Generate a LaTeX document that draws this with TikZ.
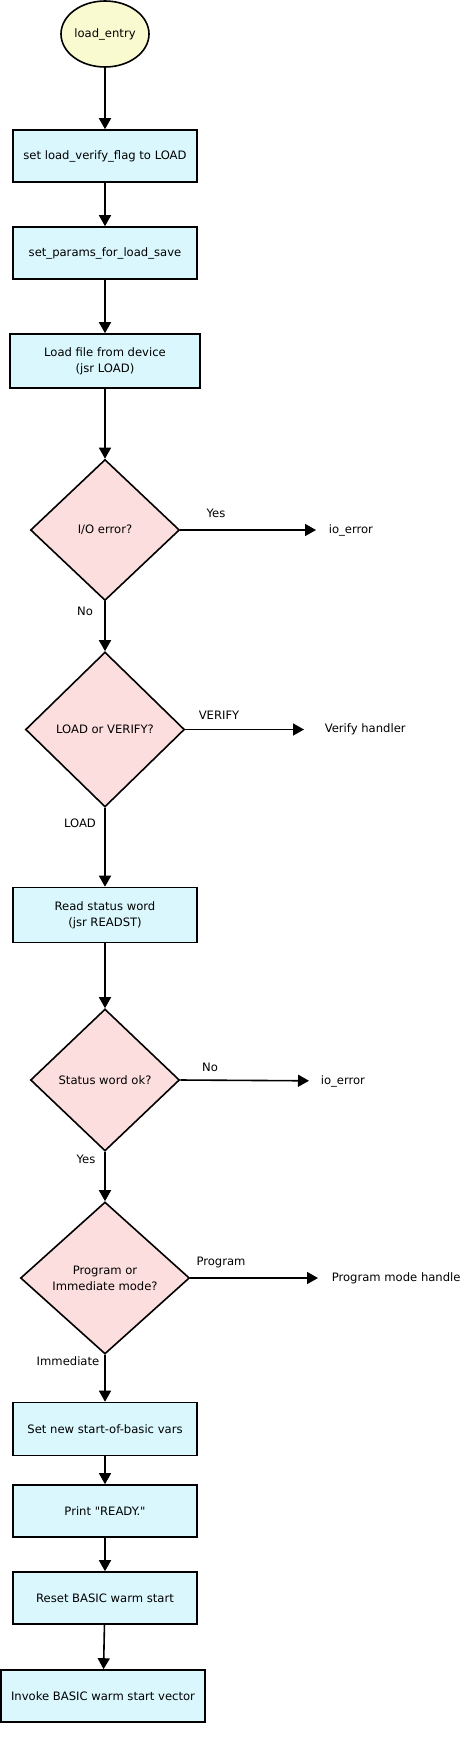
\documentclass[tikz,border=0pt]{standalone}
\usepackage{fontspec}
\setmainfont{DejaVu Sans}
\usetikzlibrary{shapes.geometric,arrows.meta}
\definecolor{startfill}{RGB}{250,250,208}
\definecolor{stepfill}{RGB}{217,247,253}
\definecolor{askfill}{RGB}{253,222,222}

\begin{document}
\begin{tikzpicture}[x=1pt, y=-1pt, line width=1.6pt,
            every node/.style={font=\fontsize{11.6}{16}\selectfont},
            startnode/.style={draw, ellipse, fill=startfill, minimum width=88pt, minimum height=66pt, inner sep=0pt},
            stepbox/.style={draw, rectangle, fill=stepfill, align=center, minimum width=184pt, minimum height=52pt, inner sep=0pt},
            askbox/.style={draw, diamond, fill=askfill, align=center, inner sep=0pt},
            flow/.style={-{Triangle[length=11pt, width=12pt]}},
            tag/.style={inner sep=0pt},
            exit/.style={anchor=west, align=left, inner xsep=12pt}]

            \useasboundingbox (0,0) rectangle (460,1739);

            % Draw the start and the first steps
            \node[startnode] (entry) at (105,34) {load\_entry};
            \node[stepbox] (setflag) at (105,156) {set load\_verify\_flag to LOAD};
            \node[stepbox] (params) at (105,253) {set\_params\_for\_load\_save};
            \node[stepbox, minimum width=190pt, minimum height=54pt] (loadfile) at (105,361) {Load file from device\\(jsr LOAD)};

            % Draw the first two questions
            \node[askbox, minimum width=149pt, minimum height=141pt] (ioerr) at (105,530) {I/O error?};
            \node[exit] (ioexit) at (316,530) {io\_error};
            \node[askbox, minimum width=159pt, minimum height=155pt] (mode) at (105,729.5) {LOAD or VERIFY?};
            \node[exit, inner xsep=20pt] (verify) at (304,729.5) {Verify handler};

            % Draw the status check
            \node[stepbox, minimum height=55pt] (readst) at (105,915) {Read status word\\(jsr READST)};
            \node[askbox, minimum width=149pt, minimum height=142pt] (stok) at (105,1080) {Status word ok?};
            \node[exit, inner xsep=11pt] (ioexit2) at (309,1081) {io\_error};
            \node[askbox, minimum width=169pt, minimum height=152pt] (prog) at (105,1278) {Program or\\Immediate mode?};
            \node[exit, inner xsep=13pt] (progexit) at (318,1278) {Program mode handler};

            % Draw the last steps
            \node[stepbox, minimum height=53pt] (newvars) at (105,1429) {Set new start-of-basic vars};
            \node[stepbox] (ready) at (105,1511) {Print \textquotedbl READY.\textquotedbl};
            \node[stepbox] (warm) at (105,1598) {Reset BASIC warm start};
            \node[stepbox, minimum width=204pt] (vector) at (103,1696) {Invoke BASIC warm start vector};

            % Draw the branch labels
            \node[tag] (yes1) at (216,513) {Yes};
            \node[tag] (no1) at (85,611) {No};
            \node[tag] (verlab) at (219,715) {VERIFY};
            \node[tag] (loadlab) at (80,823) {LOAD};
            \node[tag] (no2) at (210,1067) {No};
            \node[tag] (yes2) at (86,1159) {Yes};
            \node[tag] (proglab) at (221,1262) {Program};
            \node[tag] (immlab) at (68,1361) {Immediate};

            % Draw the arrows down the main line
            \draw[flow] (entry) -- (setflag);
            \draw[flow] (setflag) -- (params);
            \draw[flow] (params) -- (loadfile);
            \draw[flow] (loadfile) -- (ioerr);
            \draw[flow] (ioerr) -- (mode);
            \draw[flow] (mode) -- (readst);
            \draw[flow] (readst) -- (stok);
            \draw[flow] (stok) -- (prog);
            \draw[flow] (prog) -- (newvars);
            \draw[flow] (newvars) -- (ready);
            \draw[flow] (ready) -- (warm);
            \draw[flow] (warm) -- (vector);

            % Draw the arrows out to the side
            \draw[flow] (ioerr.east) -- (ioexit);
            \draw[flow] (mode.east) -- (verify);
            \draw[flow] (stok.east) -- (ioexit2);
            \draw[flow] (prog.east) -- (progexit);

        \end{tikzpicture}
\end{document}
